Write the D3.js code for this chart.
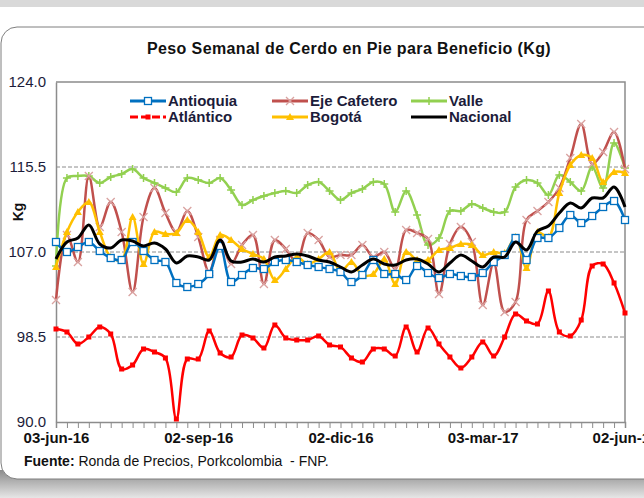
<!DOCTYPE html>
<html>
<head>
<meta charset="utf-8">
<script src="https://cdn.jsdelivr.net/npm/d3@7/dist/d3.min.js"></script>
<style>
  body { margin: 0; background: #fff; }
  svg { display: block; font-family: "Liberation Sans", Arial, sans-serif; }
</style>
</head>
<body>
<script>
// semanas desde el 03-jun-16
var startWeek = "2016-06-03";
var nWeeks = 53;
var tickLabels = ["03-jun-16", "02-sep-16", "02-dic-16", "03-mar-17", "02-jun-17"];
var yTicks = [90, 98.5, 107, 115.5, 124];

var antioquia = [108.0, 107.0, 107.5, 108.0, 107.1, 106.4, 106.2, 108.0, 107.1, 106.2,
  106.0, 103.9, 103.5, 103.8, 104.8, 107.6, 104.0, 104.7, 105.4, 105.3,
  106.0, 106.2, 106.0, 105.7, 105.5, 105.3, 105.0, 104.0, 104.7, 106.2,
  104.8, 104.8, 104.2, 105.6, 104.9, 104.4, 104.8, 104.6, 104.5, 104.9,
  106.0, 106.7, 108.4, 106.2, 108.4, 108.4, 109.4, 110.7, 109.9, 110.6,
  111.5, 112.1, 110.2];
var ejeCafetero = [102.2, 108.7, 106.0, 114.6, 109.5, 112.0, 109.0, 103.0, 110.5, 113.4,
  110.9, 109.0, 111.1, 108.5, 105.0, 108.2, 105.8, 107.7, 108.7, 103.8,
  108.2, 107.3, 106.0, 108.9, 108.2, 106.5, 106.7, 106.7, 107.7, 106.5,
  107.0, 105.3, 109.2, 108.9, 108.3, 102.8, 107.8, 109.5, 108.0, 101.7,
  105.9, 101.0, 102.0, 110.2, 111.1, 112.0, 113.4, 116.4, 119.8, 115.8,
  117.0, 119.0, 115.3];
var valle = [105.6, 114.4, 114.6, 114.6, 113.9, 114.5, 114.8, 115.3, 114.4, 113.9,
  113.4, 113.0, 114.4, 114.2, 113.9, 114.4, 113.2, 111.7, 112.2, 112.6,
  112.9, 113.1, 112.9, 113.7, 114.0, 113.1, 112.2, 112.9, 113.3, 114.0,
  113.8, 111.0, 113.1, 110.7, 107.7, 108.4, 111.1, 111.1, 111.8, 111.4,
  111.0, 111.0, 113.5, 114.2, 113.9, 112.7, 114.7, 114.0, 113.1, 115.5,
  113.4, 117.9, 115.4];
var atlantico = [99.3, 99.0, 97.8, 98.5, 99.5, 98.8, 95.3, 95.7, 97.3, 97.0,
  96.4, 90.3, 96.3, 96.3, 99.1, 96.9, 96.5, 98.7, 98.4, 97.4,
  99.7, 98.4, 98.2, 98.2, 98.6, 97.7, 97.5, 96.4, 96.0, 97.3,
  97.3, 96.6, 99.5, 97.0, 99.4, 97.8, 96.5, 95.4, 96.5, 98.0,
  96.6, 98.5, 100.8, 100.1, 99.8, 103.1, 99.0, 98.6, 100.2, 105.6,
  105.8, 103.9, 100.9];
var bogota = [105.5, 109.0, 111.0, 112.0, 109.0, 106.5, 106.2, 110.5, 105.8, 109.0,
  108.8, 108.9, 110.2, 109.0, 106.5, 108.7, 108.2, 107.3, 106.8, 106.3,
  104.2, 105.3, 106.5, 105.8, 106.3, 107.0, 105.0, 106.0, 104.7, 104.8,
  106.3, 103.8, 107.0, 106.2, 106.2, 107.2, 107.4, 107.8, 107.7, 106.7,
  107.0, 106.9, 108.5, 105.4, 109.0, 108.5, 112.9, 115.7, 116.7, 116.4,
  114.0, 115.0, 114.9];
var nacional = [106.3, 108.0, 108.4, 109.7, 107.8, 107.4, 108.2, 108.1, 107.6, 107.9,
  107.3, 105.9, 106.6, 106.5, 106.2, 108.2, 106.1, 106.0, 106.3, 106.0,
  106.5, 106.6, 106.8, 106.6, 106.2, 106.0, 105.5, 105.0, 105.7, 106.3,
  105.8, 105.7, 106.2, 106.3, 105.8, 105.0, 105.9, 106.7, 106.1, 105.5,
  106.5, 106.5, 108.0, 107.2, 109.1, 109.6, 110.9, 111.9, 111.4, 112.4,
  112.4, 113.5, 111.5];

var W = 644, H = 498;
var margin = {left: 56, right: 19, top: 82, bottom: 76};

var es = d3.timeFormatLocale({
  dateTime: "%x, %X", date: "%d/%m/%Y", time: "%H:%M:%S", periods: ["AM", "PM"],
  days: ["domingo", "lunes", "martes", "miércoles", "jueves", "viernes", "sábado"],
  shortDays: ["dom", "lun", "mar", "mié", "jue", "vie", "sáb"],
  months: ["enero", "febrero", "marzo", "abril", "mayo", "junio", "julio", "agosto", "septiembre", "octubre", "noviembre", "diciembre"],
  shortMonths: ["ene", "feb", "mar", "abr", "may", "jun", "jul", "ago", "sep", "oct", "nov", "dic"]
});
var fmt = es.format("%d-%b-%y");
var first = d3.timeParse("%Y-%m-%d")(startWeek);
var weeks = d3.range(nWeeks).map(function (i) { return d3.timeDay.offset(first, 7 * i); });

var series = [
  {name: "Antioquia", values: antioquia, color: "#0070C0", marker: "square"},
  {name: "Eje Cafetero", values: ejeCafetero, color: "#C0504D", mcolor: "#D9A2A0", marker: "x"},
  {name: "Valle", values: valle, color: "#92D050", marker: "plus"},
  {name: "Atlántico", values: atlantico, color: "#FF0000", marker: "fsquare"},
  {name: "Bogotá", values: bogota, color: "#FFC000", marker: "triangle"},
  {name: "Nacional", values: nacional, color: "#000000", marker: "none"}
];

var svg = d3.select("body").append("svg").attr("width", W).attr("height", H);

// marco de la pagina
var defs = svg.append("defs");
var grad = defs.append("linearGradient").attr("id", "shadow").attr("x1", 0).attr("y1", 0).attr("x2", 0).attr("y2", 1);
grad.append("stop").attr("offset", "0%").attr("stop-color", "#8c8c8c");
grad.append("stop").attr("offset", "100%").attr("stop-color", "#e6e6e6");
svg.append("rect").attr("x", 0).attr("y", 0).attr("width", W).attr("height", 7).attr("fill", "#d9d9d9");
svg.append("rect").attr("x", 0).attr("y", 470).attr("width", W).attr("height", 28).attr("fill", "url(#shadow)");
svg.append("rect").attr("x", 1).attr("y", 27).attr("width", 700).attr("height", 452)
  .attr("rx", 16).attr("fill", "#fff").attr("stroke", "#7f7f7f").attr("stroke-width", 1);

var x = d3.scaleTime().domain([weeks[0], weeks[nWeeks - 1]]).range([margin.left, W - margin.right]);
var y = d3.scaleLinear().domain([90, 124]).range([H - margin.bottom, margin.top]);

// titulo
svg.append("text").attr("x", 349).attr("y", 54).attr("text-anchor", "middle")
  .attr("font-size", "16px").attr("font-weight", "bold").attr("letter-spacing", "0.4px").attr("fill", "#111")
  .text("Peso Semanal de Cerdo en Pie para Beneficio (Kg)");

// lineas guia
svg.append("g").selectAll("line").data(yTicks.slice(1, 4)).enter().append("line")
  .attr("x1", margin.left).attr("x2", W - margin.right)
  .attr("y1", function (d) { return y(d); }).attr("y2", function (d) { return y(d); })
  .attr("stroke", "#8c8c8c").attr("stroke-dasharray", "4,2").attr("stroke-width", 1);

// borde del area
svg.append("path")
  .attr("d", "M" + margin.left + "," + y(124) + "H" + (W - margin.right) + "V" + y(90))
  .attr("fill", "none").attr("stroke", "#8c8c8c").attr("stroke-width", 1.5);

var yAxis = d3.axisLeft(y).tickValues(yTicks).tickFormat(d3.format(".1f")).tickSize(0).tickPadding(10);
var gy = svg.append("g").attr("transform", "translate(" + margin.left + ",0)").call(yAxis);
gy.select(".domain").attr("stroke", "#8c8c8c").attr("stroke-width", 1.5);
gy.selectAll("text").attr("font-size", "15px").attr("fill", "#1c1c3a").attr("font-family", "Liberation Sans, Arial");

var xAxis = d3.axisBottom(x).tickValues(weeks).tickSize(6).tickPadding(4)
  .tickFormat(function (d) { var s = fmt(d); return tickLabels.indexOf(s) >= 0 ? s : ""; });
var gx = svg.append("g").attr("transform", "translate(0," + y(90) + ")").call(xAxis);
gx.select(".domain").attr("stroke", "#8c8c8c").attr("stroke-width", 1.5);
gx.selectAll("line").attr("stroke", "#8c8c8c");
gx.selectAll("text").attr("font-size", "15px").attr("font-weight", "bold").attr("fill", "#111")
  .attr("font-family", "Liberation Sans, Arial");

// titulo eje
svg.append("text").attr("transform", "translate(23,212) rotate(-90)").attr("text-anchor", "middle")
  .attr("font-size", "14px").attr("font-weight", "bold").attr("fill", "#111").text("Kg");

function drawMarker(g, m, color, mcolor) {
  if (m === "square") {
    g.append("rect").attr("x", -3.5).attr("y", -3.5).attr("width", 7).attr("height", 7)
      .attr("fill", "#fff").attr("stroke", color).attr("stroke-width", 1.3);
  } else if (m === "fsquare") {
    g.append("rect").attr("x", -2.5).attr("y", -2.5).attr("width", 5).attr("height", 5).attr("fill", color);
  } else if (m === "x") {
    g.append("path").attr("d", "M-4,-4L4,4M-4,4L4,-4").attr("stroke", mcolor).attr("stroke-width", 1.3);
  } else if (m === "plus") {
    g.append("path").attr("d", "M-4,0H4M0,-4V4").attr("stroke", color).attr("stroke-width", 1.5);
  } else if (m === "triangle") {
    g.append("path").attr("d", "M0,-4L4,3H-4Z").attr("fill", color);
  }
}

var line = d3.line().curve(d3.curveCatmullRom.alpha(0.5))
  .x(function (d, i) { return x(weeks[i]); })
  .y(function (d) { return y(d); });

var order = [2, 1, 4, 0, 3, 5];
order.forEach(function (k) {
  var s = series[k];
  var g = svg.append("g");
  g.append("path").datum(s.values).attr("d", line).attr("fill", "none")
    .attr("stroke", s.color).attr("stroke-width", s.name === "Nacional" ? 3 : 2.5)
    .attr("stroke-linejoin", "round");
  if (s.marker !== "none") {
    g.selectAll("g.m").data(s.values).enter().append("g").attr("class", "m")
      .attr("transform", function (d, i) { return "translate(" + x(weeks[i]) + "," + y(d) + ")"; })
      .each(function () { drawMarker(d3.select(this), s.marker, s.color, s.mcolor); });
  }
});

// leyenda
var legCols = [130, 272, 411];
var legRows = [101, 117];
series.forEach(function (s, i) {
  var cx = legCols[i % 3], cy = legRows[Math.floor(i / 3)];
  var g = svg.append("g").attr("transform", "translate(" + cx + "," + cy + ")");
  g.append("line").attr("x1", 0).attr("x2", 36).attr("stroke", s.color).attr("stroke-width", 3)
    .attr("stroke-dasharray", s.name === "Atlántico" ? "8,3" : null);
  drawMarker(g.append("g").attr("transform", "translate(18,0)"), s.marker, s.color, s.mcolor);
  g.append("text").attr("x", 38).attr("y", 5).attr("font-size", "15px").attr("font-weight", "bold")
    .attr("fill", "#1c1c3a").text(s.name);
});

// fuente
var src = svg.append("text").attr("x", 24).attr("y", 466).attr("font-size", "14px").attr("fill", "#111");
src.append("tspan").attr("font-weight", "bold").text("Fuente:");
src.append("tspan").text(" Ronda de Precios, Porkcolombia  - FNP.").attr("xml:space", "preserve");
</script>
</body>
</html>
